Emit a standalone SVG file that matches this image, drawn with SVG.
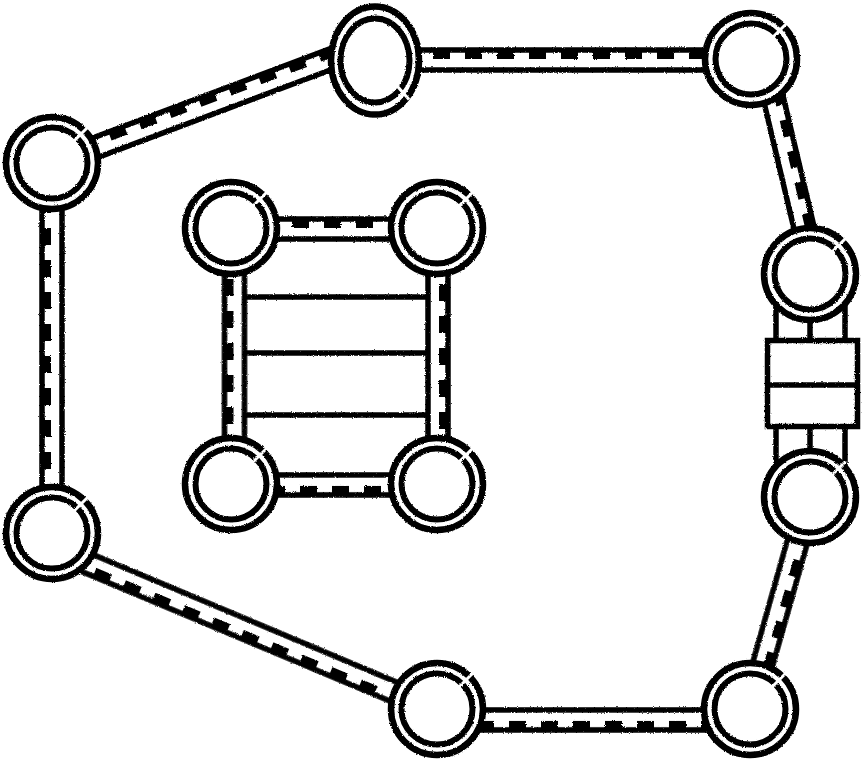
<svg xmlns="http://www.w3.org/2000/svg" width="863" height="763" viewBox="0 0 863 763">
<defs>
<filter id="rough" filterUnits="userSpaceOnUse" x="0" y="0" width="863" height="763">
  <feTurbulence type="fractalNoise" baseFrequency="0.9" numOctaves="2" seed="3" result="n"/>
  <feDisplacementMap in="SourceGraphic" in2="n" scale="2.5" xChannelSelector="R" yChannelSelector="G"/>
</filter>
<g id="ring">
  <circle r="46" fill="#fff" stroke="#000" stroke-width="6.5"/>
  <circle r="35.5" fill="none" stroke="#000" stroke-width="6"/>
  <line x1="22" y1="-22" x2="35.5" y2="-35.5" stroke="#fff" stroke-width="3"/>
</g>
</defs>
<style>
.ln{stroke:#000;stroke-width:5.5;fill:none}
.ds{stroke:#000;stroke-width:8;stroke-dasharray:17 15;fill:none}
.bx{stroke:#000;stroke-width:5.5;fill:#fff}
</style>
<rect width="863" height="763" fill="#fff"/>
<g filter="url(#rough)">
<g id="connectors">
  <g transform="translate(52,164) rotate(-20.63)">
    <line class="ln" x1="0" y1="-10" x2="346" y2="-10"/>
    <line class="ln" x1="0" y1="10" x2="346" y2="10"/>
    <line class="ds" x1="0" y1="-5" x2="346" y2="-5"/>
  </g>
  <g transform="translate(375,60)">
    <line class="ln" x1="0" y1="-10" x2="376" y2="-10"/>
    <line class="ln" x1="0" y1="10" x2="376" y2="10"/>
    <line class="ds" x1="0" y1="-5" x2="376" y2="-5" stroke-dashoffset="6"/>
  </g>
  <g transform="translate(764,59) rotate(76.66)">
    <line class="ln" x1="0" y1="-10" x2="221" y2="-10"/>
    <line class="ln" x1="0" y1="10" x2="221" y2="10"/>
    <line class="ds" x1="0" y1="-5" x2="221" y2="-5"/>
  </g>
  <g transform="translate(810,497) rotate(105.8)">
    <line class="ln" x1="0" y1="-10" x2="220" y2="-10"/>
    <line class="ln" x1="0" y1="10" x2="220" y2="10"/>
    <line class="ds" x1="0" y1="-5" x2="220" y2="-5"/>
  </g>
  <g transform="translate(750,720) rotate(180)">
    <line class="ln" x1="0" y1="-10" x2="313" y2="-10"/>
    <line class="ln" x1="0" y1="10" x2="313" y2="10"/>
    <line class="ds" x1="0" y1="-5" x2="313" y2="-5"/>
  </g>
  <g transform="translate(437,710) rotate(-157.2)">
    <line class="ln" x1="0" y1="-10" x2="418" y2="-10"/>
    <line class="ln" x1="0" y1="10" x2="418" y2="10"/>
    <line class="ds" x1="0" y1="-5" x2="418" y2="-5"/>
  </g>
  <g transform="translate(52,533) rotate(-90)">
    <line class="ln" x1="0" y1="-10" x2="369" y2="-10"/>
    <line class="ln" x1="0" y1="10" x2="369" y2="10"/>
    <line class="ds" x1="0" y1="-5" x2="369" y2="-5"/>
  </g>
  <g transform="translate(231,229)">
    <line class="ln" x1="0" y1="-10" x2="206" y2="-10"/>
    <line class="ln" x1="0" y1="10" x2="206" y2="10"/>
    <line class="ds" x1="0" y1="-5" x2="206" y2="-5" stroke-dashoffset="3"/>
  </g>
  <g transform="translate(438,228) rotate(90)">
    <line class="ln" x1="0" y1="-10" x2="256" y2="-10"/>
    <line class="ln" x1="0" y1="10" x2="256" y2="10"/>
    <line class="ds" x1="0" y1="-5" x2="256" y2="-5" stroke-dashoffset="8"/>
  </g>
  <g transform="translate(437,485) rotate(180)">
    <line class="ln" x1="0" y1="-10" x2="206" y2="-10"/>
    <line class="ln" x1="0" y1="10" x2="206" y2="10"/>
    <line class="ds" x1="0" y1="-5" x2="206" y2="-5" stroke-dashoffset="8"/>
  </g>
  <g transform="translate(234.5,484) rotate(-90)">
    <line class="ln" x1="0" y1="-10" x2="256" y2="-10"/>
    <line class="ln" x1="0" y1="10" x2="256" y2="10"/>
    <line class="ds" x1="0" y1="-5" x2="256" y2="-5" stroke-dashoffset="4"/>
  </g>
  <line class="ln" x1="245" y1="297" x2="428" y2="297"/>
  <line class="ln" x1="245" y1="353" x2="428" y2="353"/>
  <line class="ln" x1="245" y1="415" x2="428" y2="415"/>
  <line class="ln" x1="776" y1="300" x2="776" y2="340"/>
  <line class="ln" x1="810" y1="300" x2="810" y2="340"/>
  <line class="ln" x1="845" y1="300" x2="845" y2="340"/>
  <line class="ln" x1="776" y1="426" x2="776" y2="470"/>
  <line class="ln" x1="810" y1="426" x2="810" y2="470"/>
  <line class="ln" x1="845" y1="426" x2="845" y2="470"/>
</g>
<g id="box">
  <rect class="bx" x="767.5" y="340.5" width="90" height="86"/>
  <line class="ln" x1="767.5" y1="385" x2="857.5" y2="385"/>
</g>
<g id="n-top-left"><use href="#ring" x="52" y="163"/></g>
<g id="n-top-center">
  <ellipse cx="375" cy="60.5" rx="44" ry="54" fill="#fff" stroke="#000" stroke-width="6.5"/>
  <ellipse cx="375" cy="60.5" rx="34.5" ry="42" fill="none" stroke="#000" stroke-width="6"/>
  <line x1="394" y1="82.5" x2="409" y2="99.5" stroke="#fff" stroke-width="3"/>
</g>
<g id="n-top-right"><use href="#ring" x="751" y="59"/></g>
<g id="n-right-upper"><use href="#ring" x="810" y="274"/></g>
<g id="n-right-lower"><use href="#ring" x="810" y="497"/></g>
<g id="n-bottom-right"><use href="#ring" x="750" y="709"/></g>
<g id="n-bottom-center"><use href="#ring" x="437" y="709"/></g>
<g id="n-bottom-left"><use href="#ring" x="52" y="533"/></g>
<g id="n-inner-tl"><use href="#ring" x="231" y="228"/></g>
<g id="n-inner-tr"><use href="#ring" x="437" y="228"/></g>
<g id="n-inner-bl"><use href="#ring" x="231" y="484"/></g>
<g id="n-inner-br"><use href="#ring" x="437" y="484"/></g>
</g>
</svg>
